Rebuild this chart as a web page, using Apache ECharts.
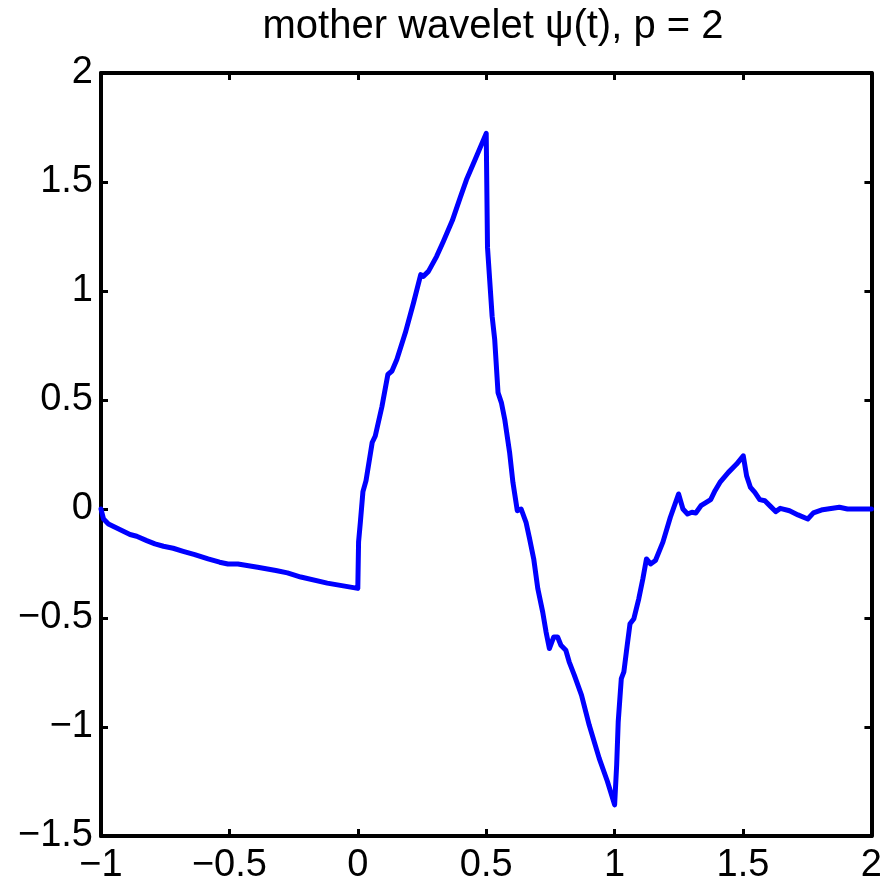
<!DOCTYPE html>
<html>
<head>
<meta charset="utf-8">
<script src="https://cdn.jsdelivr.net/npm/echarts@6/dist/echarts.min.js"></script>
<style>
  html, body { margin: 0; padding: 0; background: #fff; }
  #chart { width: 885px; height: 885px; }
</style>
</head>
<body>
<div id="chart"></div>
<script>
  // t 值（横轴）
  var tValues = [
    -1, -0.99, -0.971, -0.945, -0.919, -0.887, -0.861, -0.822, -0.79, -0.757,
    -0.719, -0.68, -0.635, -0.583, -0.538, -0.506, -0.467, -0.39, -0.319, -0.274,
    -0.222, -0.119, 0,
    0.003, 0.01, 0.02, 0.032, 0.056, 0.068, 0.094, 0.117, 0.133, 0.152,
    0.185, 0.217, 0.245, 0.255, 0.275, 0.307, 0.333, 0.368, 0.398, 0.423,
    0.456, 0.5,
    0.505, 0.523, 0.533, 0.546, 0.559, 0.572, 0.591, 0.604, 0.621, 0.636,
    0.655, 0.669, 0.685, 0.701, 0.72, 0.733, 0.746, 0.763, 0.778, 0.791,
    0.81, 0.823, 0.843, 0.871, 0.901, 0.94, 0.972, 1.0,
    1.008, 1.014, 1.026, 1.036, 1.049, 1.06, 1.075, 1.094, 1.11, 1.124,
    1.14, 1.159, 1.188, 1.217, 1.249, 1.266, 1.284, 1.301, 1.316, 1.336,
    1.352, 1.374, 1.391, 1.41, 1.443, 1.475, 1.501,
    1.514, 1.529, 1.546, 1.565, 1.585, 1.607, 1.627, 1.645, 1.681, 1.714,
    1.752, 1.774, 1.81, 1.875, 1.907, 2
  ];
  // psi(t) 值（纵轴）
  var psiValues = [
    0, -0.046, -0.069, -0.084, -0.099, -0.117, -0.125, -0.145, -0.16, -0.171,
    -0.18, -0.194, -0.209, -0.229, -0.244, -0.252, -0.252, -0.267, -0.282, -0.293,
    -0.312, -0.34, -0.364,
    -0.15, -0.06, 0.08, 0.13, 0.305, 0.335, 0.47, 0.617, 0.633, 0.686,
    0.808, 0.946, 1.075, 1.067, 1.09, 1.159, 1.227, 1.323, 1.426, 1.51,
    1.601, 1.723,
    1.2, 0.884, 0.778, 0.534, 0.488, 0.412, 0.26, 0.122, -0.008, 0,
    -0.061, -0.137, -0.229, -0.366, -0.473, -0.564, -0.64, -0.587, -0.587, -0.625,
    -0.648, -0.701, -0.762, -0.854, -0.991, -1.144, -1.25, -1.357,
    -1.174, -0.976, -0.778, -0.747, -0.625, -0.526, -0.503, -0.412, -0.32, -0.229,
    -0.252, -0.236, -0.152, -0.038, 0.069, 0, -0.023, -0.015, -0.018, 0.015,
    0.027, 0.043, 0.084, 0.122, 0.168, 0.206, 0.244,
    0.152, 0.099, 0.076, 0.043, 0.038, 0.012, -0.012, 0.003, -0.008, -0.027,
    -0.046, -0.018, -0.003, 0.008, 0, 0
  ];
  // 刻度
  var xTicks = { min: -1, max: 2, interval: 0.5 };
  var yTicks = { min: -1.5, max: 2, interval: 0.5 };

  var fontName = 'Liberation Sans';

  function minusLabel(v) {
    return String(v).replace('-', '\u2212');
  }

  var points = [];
  for (var i = 0; i < tValues.length; i++) {
    points.push([tValues[i], psiValues[i]]);
  }

  function makeAxis(ticks, position, showLabel, margin) {
    return {
      type: 'value',
      position: position,
      min: ticks.min,
      max: ticks.max,
      interval: ticks.interval,
      axisLine: { show: true, onZero: false, lineStyle: { color: '#000', width: 4 } },
      axisTick: { show: true, inside: true, length: 7, lineStyle: { color: '#000', width: 3 } },
      axisLabel: {
        show: showLabel,
        color: '#000',
        fontFamily: fontName,
        fontSize: 38,
        margin: margin,
        formatter: minusLabel
      },
      splitLine: { show: false }
    };
  }

  var chart = echarts.init(document.getElementById('chart'));
  chart.setOption({
    animation: false,
    backgroundColor: '#fff',
    title: {
      text: 'mother wavelet \u03c8(t), p = 2',
      left: 488,
      textAlign: 'center',
      top: 2,
      textStyle: { color: '#000', fontFamily: fontName, fontSize: 40, fontWeight: 'normal' }
    },
    grid: { left: 101, right: 9, top: 73, bottom: 47 },
    xAxis: [
      makeAxis(xTicks, 'bottom', true, 11),
      makeAxis(xTicks, 'top', false, 9)
    ],
    yAxis: [
      makeAxis(yTicks, 'left', true, 8),
      makeAxis(yTicks, 'right', false, 9)
    ],
    series: [{
      type: 'line',
      data: points,
      showSymbol: false,
      symbol: 'none',
      lineStyle: { color: '#0000ff', width: 5, join: 'round', cap: 'round' }
    }]
  });
</script>
</body>
</html>
